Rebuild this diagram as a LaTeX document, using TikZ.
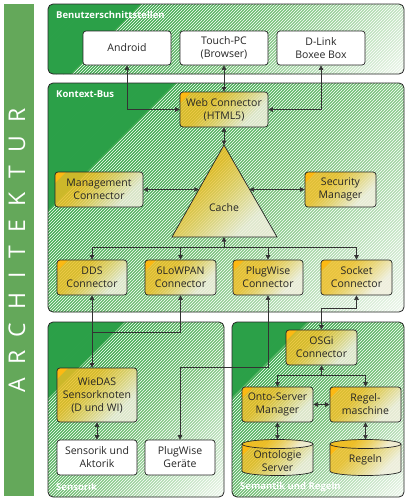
\documentclass[tikz,border=0pt]{standalone}
\usepackage{fontspec}
\setmainfont{Open Sans}
\usetikzlibrary{arrows.meta,patterns,calc}
\definecolor{bargreen}{HTML}{64A85A}
\definecolor{pdark}{HTML}{2BA048}
\definecolor{pdm}{HTML}{3DAA4F}
\definecolor{pmid}{HTML}{78C27A}
\definecolor{plight}{HTML}{EEF7EC}
\definecolor{gold}{HTML}{F0BE24}
\definecolor{goldmid}{HTML}{EDD36A}
\definecolor{goldlight}{HTML}{F2F0DE}
\definecolor{cornerorange}{HTML}{FDB913}
\definecolor{linegray}{HTML}{333333}
\pgfdeclareverticalshading{goldshade}{100bp}{color(0bp)=(goldlight); color(30bp)=(goldlight); color(48bp)=(goldmid); color(62bp)=(gold); color(100bp)=(gold)}
\newcommand\ndfont{\fontsize{10.5}{13}\selectfont}
\newcommand\lsp{\kern 13.5pt}
% green panel with diagonal gradient: x0,y0,x1,y1
\newcommand\greenpanel[4]{%
  \begin{scope}
    \clip[rounded corners=5pt] (#1,#2) rectangle (#3,#4);
    \pgfmathsetmacro\smin{#1+#2}
    \pgfmathsetmacro\sspan{#3+#4-#1-#2}
    \pgfmathsetmacro\dsb{\sspan/60}
    \foreach \i in {0,...,59}{
      \pgfmathsetmacro\tval{(\i+0.5)/60}
      \pgfmathsetmacro\sa{\smin+\i*\dsb}
      \pgfmathsetmacro\sb{\sa+\dsb+0.8}
      \ifdim \tval pt<0.22pt \colorlet{bandc}{pdark}%
      \else\ifdim \tval pt<0.56pt \pgfmathsetmacro\pp{(\tval-0.22)/0.34*100}\colorlet{bandc}{pmid!\pp!pdm}%
      \else \pgfmathsetmacro\pp{(\tval-0.56)/0.44*100}\colorlet{bandc}{plight!\pp!pmid}\fi\fi
      \fill[bandc] (\sa-#2,#2) -- (\sb-#2,#2) -- (\sb-#4,#4) -- (\sa-#4,#4) -- cycle;
    }
    \pgfmathsetmacro\sz{\smin+0.22*\sspan}
    \fill[pattern=north east lines, pattern color=white, fill opacity=0.16]
      (\sz-#2,#2) -- (#3+5,#2) -- (#3+5,#4) -- (\sz-#4,#4) -- cycle;
  \end{scope}
  \draw[black!85, line width=0.8pt, rounded corners=5pt] (#1,#2) rectangle (#3,#4);
}
\tikzset{
  wbox/.style={draw=black!85, line width=0.7pt, fill=white, rounded corners=3pt,
    minimum width=88pt, minimum height=34pt, text=black!85, align=center,
    inner sep=1pt, font=\ndfont},
  goldfill/.style={shade, shading=goldshade, shading angle=45, fill opacity=0.82, text opacity=1},
  ybox/.style={draw=black!85, line width=0.7pt, rounded corners=3pt, goldfill,
    minimum height=35pt, align=center, inner sep=1pt, font=\ndfont, text=black!85,
    path picture={\fill[cornerorange, sharp corners, fill opacity=1] (path picture bounding box.north west)
      -- ++(11pt,0pt) -- ++(-11pt,-11pt) -- cycle;}},
  lbl/.style={text=white, font=\fontsize{9.5}{11}\selectfont\bfseries, anchor=west, inner sep=0pt},
  con/.style={draw=linegray, line width=0.6pt},
  >={Triangle[length=4.5pt,width=4.5pt]}
}
\begin{document}
\begin{tikzpicture}[x=1pt,y=-1pt]
\useasboundingbox (0,0) rectangle (405,498);
\fill[white] (0,0) rectangle (405,498);
% left bar
\fill[bargreen] (3.5,3.5) rectangle (34,495.5);
\node[rotate=90, text=white, inner sep=0pt, font=\fontsize{23}{23}\selectfont] (arch) at (17,250.5)
  {A\lsp R\lsp C\lsp H\lsp I\lsp T\lsp E\lsp K\lsp T\lsp U\lsp R};
% panels
\greenpanel{48}{4}{404}{74}
\greenpanel{48}{83}{404}{312}
\greenpanel{48}{322}{224}{497}
\greenpanel{232}{322}{404}{497}
\node[lbl] (l1) at (56,15) {Benutzerschnittstellen};
\node[lbl] (l2) at (56,94) {Kontext-Bus};
\node[lbl] (l3) at (56,487) {Sensorik};
\node[lbl] (l4) at (240,487) {Semantik und Regeln};
% user interfaces
\node[wbox] (and) at (127,48) {Android};
\node[wbox] (touch) at (224,48) {Touch-PC\\(Browser)};
\node[wbox] (dlink) at (321,48) {D-Link\\Boxee Box};
% bus
\node[ybox, minimum width=88pt] (web) at (224,109.5) {Web Connector\\(HTML5)};
\node[ybox, minimum width=88pt] (mgmt) at (99,189.5) {Management\\Connector};
\node[ybox, minimum width=71pt] (sec) at (340.5,189.5) {Security\\Manager};
\coordinate (apex) at (224,145);
\coordinate (bl) at (172,237);
\coordinate (br) at (277,237);
\coordinate (base) at (224,237);
\coordinate (tl) at (198.8,189.5);
\coordinate (tr) at (249.4,189.5);
\path[goldfill] (apex) -- (bl) -- (br) -- cycle;
\draw[black!85, line width=0.7pt] (apex) -- (bl) -- (br) -- cycle;
\node[font=\ndfont, text=black!85] (cache) at (224,208) {Cache};
\node[ybox, minimum width=70pt] (dds) at (92,277.5) {DDS\\Connector};
\node[ybox, minimum width=71pt] (low) at (180.5,277.5) {6LoWPAN\\Connector};
\node[ybox, minimum width=70pt] (plug) at (268,277.5) {PlugWise\\Connector};
\node[ybox, minimum width=71pt] (sock) at (356.5,277.5) {Socket\\Connector};
% sensorik
\node[ybox, minimum width=80pt, minimum height=54pt] (wie) at (97,395) {WieDAS\\Sensorknoten\\(D und WI)};
\node[wbox, minimum width=80pt, minimum height=35pt] (sens) at (97,457.5) {Sensorik und\\Aktorik};
\node[wbox, minimum width=70pt, minimum height=35pt] (ger) at (180,457.5) {PlugWise\\Geräte};
% semantik
\node[ybox, minimum width=71pt] (osgi) at (321.5,347.5) {OSGi\\Connector};
\node[ybox, minimum width=71pt] (onto) at (277.5,404.5) {Onto-Server\\Manager};
\node[ybox, minimum width=71pt] (regel) at (365.5,404.5) {Regel-\\maschine};
% cylinders
\foreach \cx/\nm in {277.5/cylA, 365.5/cylB}{
  \begin{scope}
    \path[clip] (\cx-35.5,444) -- (\cx-35.5,471) arc[start angle=180, end angle=360, x radius=35.5pt, y radius=4.5pt]
      -- (\cx+35.5,444) arc[start angle=0, end angle=180, x radius=35.5pt, y radius=4.5pt] -- cycle;
    \path[goldfill] (\cx-36,438) rectangle (\cx+36,477);
    \fill[cornerorange] (\cx-36,444) -- ++(12pt,0pt) -- ++(-12pt,-12pt) -- cycle;
  \end{scope}
  \draw[black!85, line width=0.7pt] (\cx-35.5,444) -- (\cx-35.5,471) arc[start angle=180, end angle=360, x radius=35.5pt, y radius=4.5pt]
      -- (\cx+35.5,444);
  \path[goldfill] (\cx,444) ellipse [x radius=35.5pt, y radius=4.5pt];
  \draw[black!85, line width=0.7pt] (\cx,444) ellipse [x radius=35.5pt, y radius=4.5pt];
  \coordinate (\nm) at (\cx,439.5);
}
\node[font=\ndfont, text=black!85, align=center] (ontos) at (277.5,461) {Ontologie\\Server};
\node[font=\ndfont, text=black!85] (regeln) at (365.5,460) {Regeln};
% connectors
\draw[con,<->] (and.south) |- (web.west);
\draw[con,<->] (dlink.south) |- (web.east);
\draw[con,<->] (touch.south) -- (web.north);
\draw[con,<->] (web.south) -- (apex);
\draw[con,<->] (mgmt.east) -- (tl);
\draw[con,<->] (sec.west) -- (tr);
\coordinate (bus) at (224,247);
\draw[con,->] (bus) -- (base);
\draw[con,->] (bus) -| (dds.north);
\draw[con,->] (bus) -| (low.north);
\draw[con,->] (bus) -| (plug.north);
\draw[con,->] (bus) -| (sock.north);
\draw[con,<->] (dds.south) -- (dds.south |- wie.north);
\coordinate (j1) at (92,332);
\draw[con,<-] (low.south) |- (j1);
\draw[con,<->] (plug.south) -- (268,367) -| (ger.north);
\draw[con,<->] (sock.south) -- (356.5,308) -| (osgi.north);
\draw[con,<->] (wie.south) -- (sens.north);
\coordinate (sbus) at (321.5,375);
\draw[con,->] (sbus) -- (osgi.south);
\draw[con,->] (sbus) -| (onto.north);
\draw[con,->] (sbus) -| (regel.north);
\draw[con,<->] (onto.east) -- (regel.west);
\draw[con,<->] (onto.south) -- (cylA);
\draw[con,<->] (regel.south) -- (cylB);
\end{tikzpicture}
\end{document}
